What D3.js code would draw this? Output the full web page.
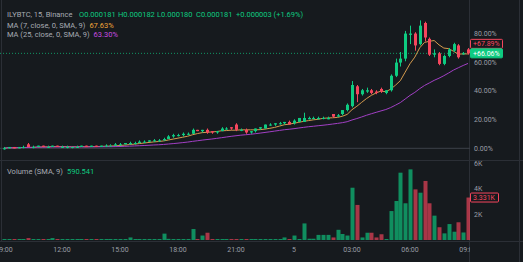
<!DOCTYPE html>
<html><head><meta charset="utf-8">
<script src="https://cdn.jsdelivr.net/npm/d3@7"></script>
<style>
html,body{margin:0;padding:0;background:#161a1e;overflow:hidden}
svg{display:block;font-family:Roboto,"Noto Sans",sans-serif}
</style></head><body>
<svg id="chart" width="523" height="262"></svg>
<script>
// ILY/BTC, 15-minute bars on Binance. Prices are in units of 0.000001 BTC.
const opens  = [109,109,110,109,110,112,110,110,111,110,110,111,110,110,110,110,110,111,110,111,110,111,111,111,112,112,112,113,113,114,114,115,115,115,116,118,119,119,120,120,123,122,123,122,121,122,124,125,127,123,123,121,122,124,124,127,127,128,128,129,128,129,129,131,132,131,132,131,135,133,135,138,141,156,150,152,153,152,154,151,153,164,174,177,195,196,188,204,192,180,181,173,179,183,187,181,184];
const highs  = [110,110,110,110,111,113,111,111,111,111,111,111,111,111,110,111,111,111,111,111,111,112,112,113,113,113,114,114,115,115,115,116,116,117,119,120,120,121,121,124,123,123,124,122,122,125,125,125,128,124,124,122,124,125,127,128,128,129,129,130,131,132,136,133,133,133,133,133,135,135,138,143,160,157,154,155,154,153,155,153,165,177,182,198,202,197,206,205,193,184,182,180,185,189,188,182,185];
const lows   = [108,109,109,109,109,110,109,110,110,110,110,110,110,109,109,110,110,110,110,110,110,110,111,111,111,112,112,112,113,113,114,114,114,115,116,117,118,118,119,120,122,121,120,120,120,122,123,123,122,122,120,120,121,123,124,126,126,127,127,127,127,129,129,131,131,131,131,131,132,133,134,137,140,144,149,151,150,150,151,150,152,163,171,175,188,183,187,190,179,178,172,172,178,182,177,180,180];
const closes = [109,110,109,110,110,110,110,111,110,110,111,110,110,110,110,110,111,110,111,110,111,111,111,112,112,113,113,113,114,114,115,115,115,116,118,119,119,120,120,123,122,123,121,121,122,124,124,124,123,123,121,122,124,125,127,127,128,128,129,127,130,132,132,132,132,132,132,132,133,134,138,142,157,150,153,153,151,151,152,153,164,174,177,196,196,187,202,193,180,181,173,179,184,188,178,181,181];
const volumes = [40,30,20,60,15,150,25,20,10,30,150,20,15,10,20,15,25,10,60,20,30,25,20,40,30,50,200,40,60,40,80,40,30,500,90,40,30,40,80,860,60,350,570,80,40,60,30,50,60,30,30,20,60,40,60,30,40,30,200,60,350,60,1300,100,100,400,400,400,200,800,470,350,4100,2750,200,570,570,200,450,50,2270,3060,5280,2880,5540,3970,3710,4630,2880,1910,1000,520,1250,650,1390,590.541,3331];

const firstBarTime = new Date(2024, 2, 4, 9, 0);
const barMinutes = 15;
const priceTicks = [0, 20, 40, 60, 80];        // percent from first close
const volumeTicks = [2000, 4000, 6000];
const maLengths = [7, 25];
const maColors = ["#d49a4e", "#a13fc4"];
const maLegendColors = ["#f0a53a", "#c94ce0"];
const maLegendValues = ["67.63%", "63.30%"];
const refPrice = 183;     // outlined marker on the price scale
const legendBar = 95;     // bar shown in the header legend

const W = 523, H = 262;
const axisX = 470;
const upColor = "#0ecb81", downColor = "#f6465d";
const textColor = "#a7abb3", axisText = "#9a9ea6", lineColor = "#2b2f36";
const legendSize = 7.5;

const svg = d3.select("#chart");
svg.append("rect").attr("width", W).attr("height", H).attr("fill", "#161a1e");

const bars = opens.map((o, i) => ({
  t: d3.timeMinute.offset(firstBarTime, i * barMinutes),
  o, h: highs[i], l: lows[i], c: closes[i], v: volumes[i],
  prev: i > 0 ? closes[i - 1] : closes[i]
}));
bars.forEach(b => { b.up = b.c > b.o || (b.c === b.o && b.c >= b.prev); });

const base = closes[0];
const pct = p => (p / base - 1) * 100;

const x = d3.scaleTime().domain([bars[0].t, bars[bars.length - 1].t]).range([4, 468]);
const y = d3.scaleLinear().domain([0, 80]).range([148.3, 33.3]);
const yp = p => y(pct(p));
const yv = d3.scaleLinear().domain([0, 6000]).range([240, 163.5]);

// clip regions
const defs = svg.append("defs");
defs.append("clipPath").attr("id", "mainClip").append("rect").attr("x", 0).attr("y", 0).attr("width", axisX).attr("height", 160);
defs.append("clipPath").attr("id", "volClip").append("rect").attr("x", 0).attr("y", 161).attr("width", axisX).attr("height", 80);
defs.append("clipPath").attr("id", "timeClip").append("rect").attr("x", 0).attr("y", 241).attr("width", axisX).attr("height", 21);

// borders and separators
const frame = svg.append("g").attr("stroke", lineColor).attr("stroke-width", 1);
frame.append("line").attr("x1", 1.5).attr("x2", 1.5).attr("y1", 0).attr("y2", 241);
frame.append("line").attr("x1", axisX - 0.5).attr("x2", axisX - 0.5).attr("y1", 0).attr("y2", H);
frame.append("line").attr("x1", 519.5).attr("x2", 519.5).attr("y1", 0).attr("y2", H);
frame.append("line").attr("x1", 0).attr("x2", W).attr("y1", 160.5).attr("y2", 160.5);
frame.append("line").attr("x1", 0).attr("x2", W).attr("y1", 241.5).attr("y2", 241.5);

// zero line of the percent scale
svg.append("line").attr("x1", 0).attr("x2", axisX).attr("y1", y(0)).attr("y2", y(0))
  .attr("stroke", "#3d4149").attr("stroke-width", 1);

const main = svg.append("g").attr("clip-path", "url(#mainClip)");

// last price line
const last = bars[bars.length - 1];
main.append("line").attr("x1", 0).attr("x2", axisX).attr("y1", yp(last.c)).attr("y2", yp(last.c))
  .attr("stroke", upColor).attr("stroke-opacity", 0.7).attr("stroke-dasharray", "1,2");

// moving averages of close
maLengths.forEach((len, k) => {
  const ma = closes.map((_, i) => d3.mean(closes.slice(Math.max(0, i - len + 1), i + 1)));
  main.append("path")
    .datum(ma)
    .attr("fill", "none").attr("stroke", maColors[k]).attr("stroke-width", 1)
    .attr("d", d3.line().x((d, i) => x(bars[i].t)).y(d => yp(d)));
});

// candles
const bodyW = 3;
const candle = main.append("g").selectAll("g").data(bars).join("g");
candle.append("line")
  .attr("x1", d => Math.round(x(d.t)) + 0.5).attr("x2", d => Math.round(x(d.t)) + 0.5)
  .attr("y1", d => yp(d.h)).attr("y2", d => yp(d.l))
  .attr("stroke", d => d.up ? upColor : downColor).attr("stroke-width", 1);
candle.append("rect")
  .attr("x", d => Math.round(x(d.t)) - 1).attr("width", bodyW)
  .attr("y", d => yp(Math.max(d.o, d.c)))
  .attr("height", d => Math.max(1, yp(Math.min(d.o, d.c)) - yp(Math.max(d.o, d.c))))
  .attr("fill", d => d.up ? upColor : downColor);

// volume bars
svg.append("g").attr("clip-path", "url(#volClip)")
  .selectAll("rect").data(bars).join("rect")
  .attr("x", d => Math.round(x(d.t)) - 1.5).attr("width", 4)
  .attr("y", d => Math.min(yv(d.v), 239))
  .attr("height", d => Math.max(1, 240 - yv(d.v)))
  .attr("fill", d => d.up ? upColor : downColor).attr("fill-opacity", 0.66);

// price scale
const fmtPct = v => v.toFixed(2) + "%";
svg.append("g").selectAll("text").data(priceTicks).join("text")
  .attr("x", 474).attr("y", d => y(d)).attr("dy", "0.35em")
  .attr("font-size", 7).attr("fill", axisText).text(fmtPct);

// volume scale
const fmtK = v => (v / 1000) + "K";
svg.append("g").selectAll("text").data(volumeTicks).join("text")
  .attr("x", 474).attr("y", d => yv(d)).attr("dy", "0.35em")
  .attr("font-size", 7).attr("fill", axisText).text(fmtK);

// time axis
const timeTicks = d3.timeHours(bars[0].t, d3.timeMinute.offset(last.t, 1), 3);
const fmtTime = d => d.getHours() === 0 ? String(d.getDate()) : d3.timeFormat("%H:%M")(d);
svg.append("g").attr("clip-path", "url(#timeClip)")
  .selectAll("text").data(timeTicks).join("text")
  .attr("x", d => x(d)).attr("y", 249.5).attr("dy", "0.35em").attr("text-anchor", "middle")
  .attr("font-size", 7).attr("fill", axisText).text(fmtTime);

// scale labels: reference marker, last price, last volume
function scaleLabel(cy, text, color, filled, w) {
  const g = svg.append("g");
  g.append("rect").attr("x", 470.5).attr("y", cy - 4.5).attr("width", w).attr("height", 9).attr("rx", 1)
    .attr("fill", filled ? color : "#161a1e").attr("stroke", color).attr("stroke-width", 1);
  g.append("text").attr("x", 473).attr("y", cy).attr("dy", "0.35em").attr("font-size", 7)
    .attr("fill", filled ? "#ffffff" : color).text(text);
}
const lastY = yp(last.c);
const refY = Math.min(yp(refPrice), lastY - 9.5);
scaleLabel(refY, "+" + fmtPct(pct(refPrice)), downColor, false, 32);
scaleLabel(lastY, "+" + fmtPct(pct(last.c)), upColor, true, 32);
scaleLabel(yv(last.v), (last.v / 1000).toFixed(3) + "K", last.up ? upColor : downColor, false, 28);

// legends
const lb = bars[legendBar];
const fmtP = p => (p / 1e6).toFixed(6);
const legendColor = lb.up ? upColor : downColor;
const legendText = (px, py, t, color) =>
  svg.append("text").attr("x", px).attr("y", py).attr("font-size", legendSize).attr("fill", color).text(t);

legendText(7, 17.3, "ILYBTC, 15, Binance", textColor);
const diff = lb.c - lb.prev;
const sign = diff >= 0 ? "+" : "";
[
  ["O" + fmtP(lb.o), 79], ["H" + fmtP(lb.h), 118], ["L" + fmtP(lb.l), 157], ["C" + fmtP(lb.c), 196],
  [sign + fmtP(diff) + " (" + sign + (diff / lb.prev * 100).toFixed(2) + "%)", 236]
].forEach(([t, px]) => legendText(px, 17.3, t, legendColor));

maLengths.forEach((len, k) => {
  const t = legendText(7, 27.7 + k * 9.6, "", textColor);
  t.append("tspan").text(`MA (${len}, close, 0, SMA, 9)`);
  t.append("tspan").attr("dx", 4).attr("fill", maLegendColors[k]).text(maLegendValues[k]);
});
const vt = legendText(7, 174, "", textColor);
vt.append("tspan").text("Volume (SMA, 9)");
vt.append("tspan").attr("dx", 4).attr("fill", legendColor).text(d3.format(".3f")(lb.v));
</script>
</body></html>
